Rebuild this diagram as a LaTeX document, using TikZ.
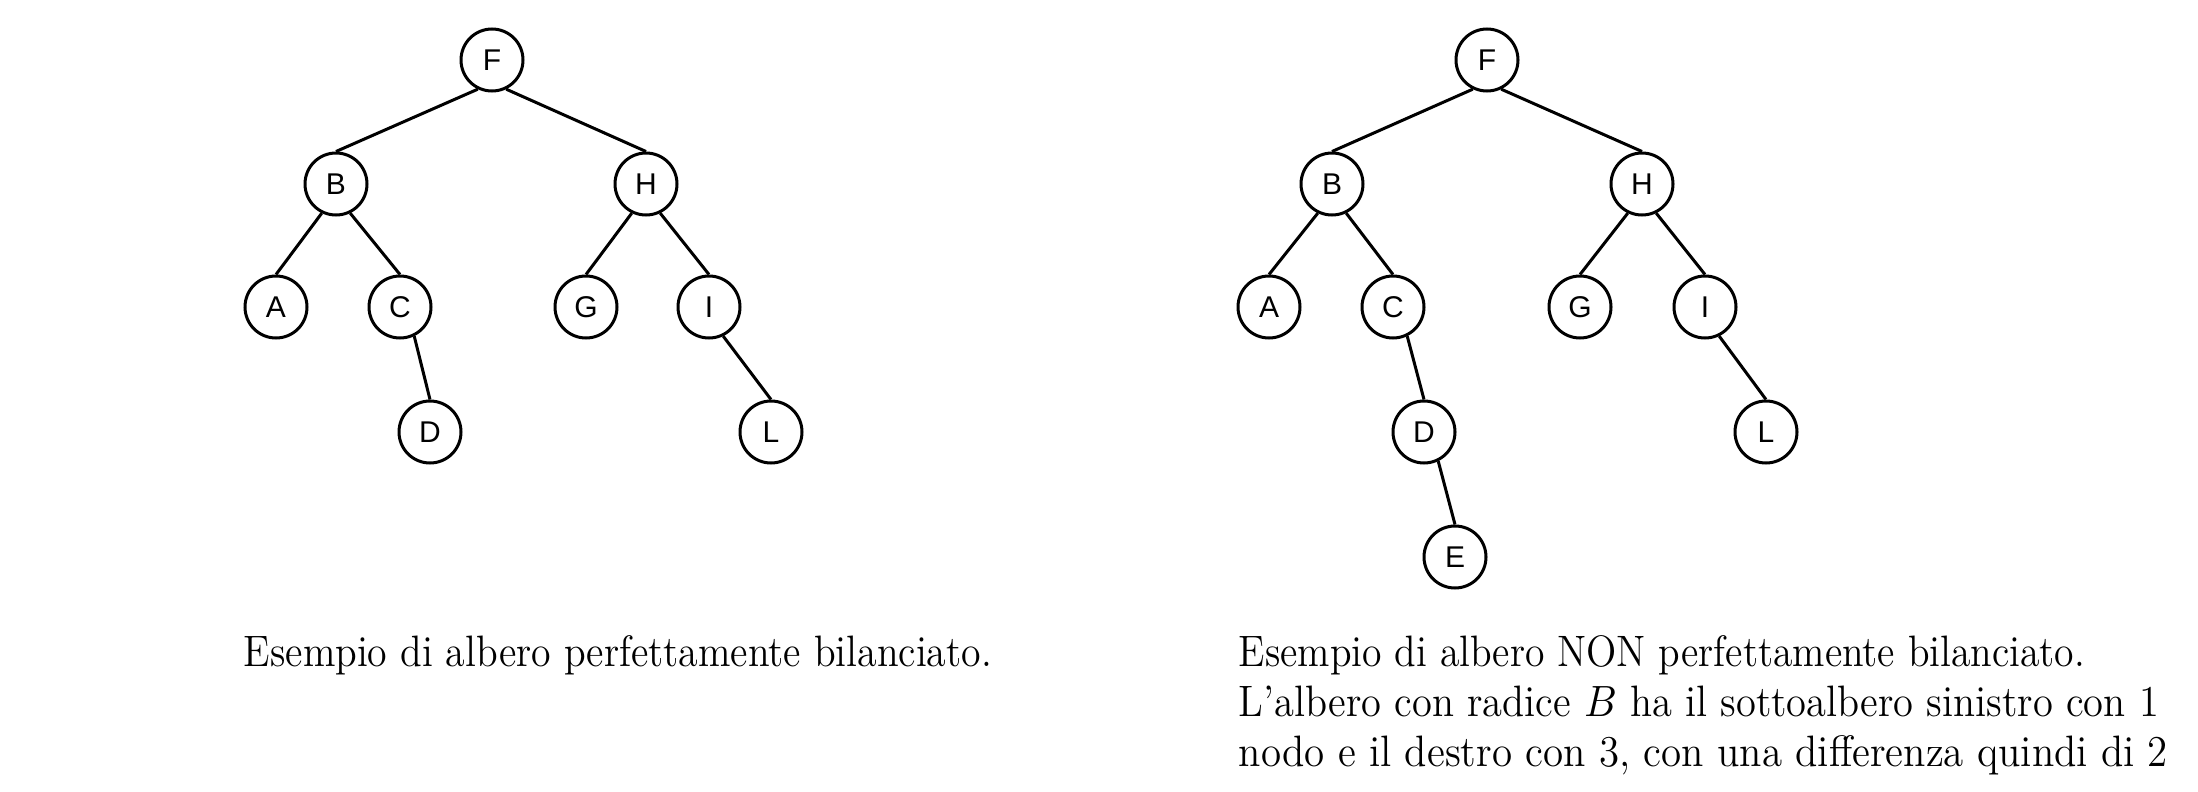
\documentclass[tikz,border=0pt]{standalone}
\usepackage{fontspec}
\newfontfamily\nodefont{Liberation Sans}
\newcommand\condtext[2]{\scalebox{#1}[1]{#2}}
\begin{document}
\begin{tikzpicture}[x=0.25pt,y=-0.25pt,
  tn/.style={circle,draw,line width=0.75pt,minimum size=15.5pt,inner sep=0pt,font=\nodefont\fontsize{7.5}{8}\selectfont},
  ed/.style={line width=0.75pt},
  captext/.style={anchor=base west,inner sep=0pt,font=\fontsize{11}{13}\selectfont}]
\useasboundingbox (0,0) rectangle (2198,792);
% left tree
\node[tn] (lF) at (492,60) {F};
\node[tn] (lB) at (336,184) {B};
\node[tn] (lH) at (646,184) {H};
\node[tn] (lA) at (276,307) {A};
\node[tn] (lC) at (400,307) {C};
\node[tn] (lG) at (586,307) {G};
\node[tn] (lI) at (709,307) {I};
\node[tn] (lD) at (430,432) {D};
\node[tn] (lL) at (771,432) {L};
\draw[ed] (lF.244)--(lB.north); \draw[ed] (lF.296)--(lH.north);
\draw[ed] (lB.244)--(lA.north); \draw[ed] (lB.296)--(lC.north);
\draw[ed] (lH.244)--(lG.north); \draw[ed] (lH.296)--(lI.north);
\draw[ed] (lC.296)--(lD.north); \draw[ed] (lI.296)--(lL.north);
% right tree
\node[tn] (rF) at (1487,60) {F};
\node[tn] (rB) at (1332,184) {B};
\node[tn] (rH) at (1642,184) {H};
\node[tn] (rA) at (1269,307) {A};
\node[tn] (rC) at (1393,307) {C};
\node[tn] (rG) at (1580,307) {G};
\node[tn] (rI) at (1705,307) {I};
\node[tn] (rD) at (1424,432) {D};
\node[tn] (rL) at (1766,432) {L};
\node[tn] (rE) at (1455,557) {E};
\draw[ed] (rF.244)--(rB.north); \draw[ed] (rF.296)--(rH.north);
\draw[ed] (rB.244)--(rA.north); \draw[ed] (rB.296)--(rC.north);
\draw[ed] (rH.244)--(rG.north); \draw[ed] (rH.296)--(rI.north);
\draw[ed] (rC.296)--(rD.north); \draw[ed] (rI.296)--(rL.north);
\draw[ed] (rD.296)--(rE.north);
% captions
\node[captext] (capL) at (243,666) {\condtext{0.905}{Esempio di albero perfettamente bilanciato.}};
\node[captext] (capR1) at (1238,666) {\condtext{0.901}{Esempio di albero NON perfettamente bilanciato.}};
\node[captext] (capR2) at (1238,716) {\condtext{0.921}{L'albero con radice $B$ ha il sottoalbero sinistro con 1}};
\node[captext] (capR3) at (1238,766) {\condtext{0.932}{nodo e il destro con 3, con una differenza quindi di 2}};
\end{tikzpicture}
\end{document}
